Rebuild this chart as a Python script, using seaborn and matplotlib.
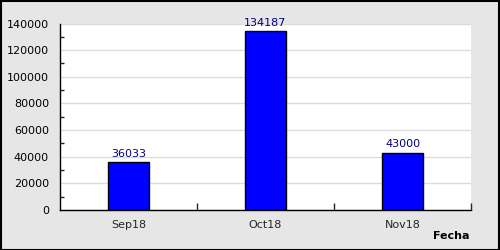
import matplotlib
matplotlib.use("Agg")
import matplotlib.pyplot as plt
import seaborn as sns
import pandas as pd
from matplotlib.ticker import MultipleLocator, FixedLocator

categories = ["Sep18", "Oct18", "Nov18"]
values = [36033, 134187, 43000]
y_ticks = [0, 20000, 40000, 60000, 80000, 100000, 120000, 140000]

df = pd.DataFrame({"Fecha": categories, "Valor": values})

sns.set_style("white")
plt.rcParams['font.family'] = ['DejaVu Sans']

fig = plt.figure(figsize=(5, 2.5), dpi=100, facecolor="#e6e6e6")
ax = fig.add_axes([60/500, 1-210/250, 411/500, (210-23.5)/250])
ax.set_facecolor("white")

sns.barplot(data=df, x="Fecha", y="Valor", color="#0000ff", width=0.3,
            edgecolor="black", linewidth=1, ax=ax, saturation=1)

ax.set_xlim(-0.5, 2.5)
ax.set_ylim(0, 140000)
ax.yaxis.set_major_locator(FixedLocator(y_ticks))
ax.yaxis.set_minor_locator(MultipleLocator(10000))
ax.set_yticklabels([str(t) for t in y_ticks])
ax.grid(axis="y", which="major", color="#dcdcdc", linewidth=1)
ax.set_axisbelow(True)

for s in ["top", "right"]:
    ax.spines[s].set_visible(False)
for s in ["left", "bottom"]:
    ax.spines[s].set_color("black")
    ax.spines[s].set_linewidth(1)

ax.tick_params(axis="y", which="major", direction="in", length=6, width=1,
               labelsize=8, pad=8, colors="black")
ax.tick_params(axis="y", which="minor", direction="in", length=3, width=1, left=True)
ax.tick_params(axis="x", which="major", length=0, labelsize=8, pad=7)
ax.xaxis.set_minor_locator(FixedLocator([0.5, 1.5, 2.5]))
ax.tick_params(axis="x", which="minor", direction="in", length=5, width=1, bottom=True)

ax.set_xlabel("")
ax.set_ylabel("")

for i, v in enumerate(values):
    ax.text(i, v + 2500, str(v), ha="center", va="bottom", fontsize=8, color="#000080")

fig.text(469/500, 1-236/250, "Fecha", ha="right", va="center", fontsize=8,
         fontweight="bold", color="black")

border = plt.Rectangle((0.001, 0.002), 0.997, 0.996, transform=fig.transFigure,
                       fill=False, edgecolor="black", linewidth=1.5)
fig.patches.append(border)

fig.savefig("out.png", dpi=100, facecolor=fig.get_facecolor())
